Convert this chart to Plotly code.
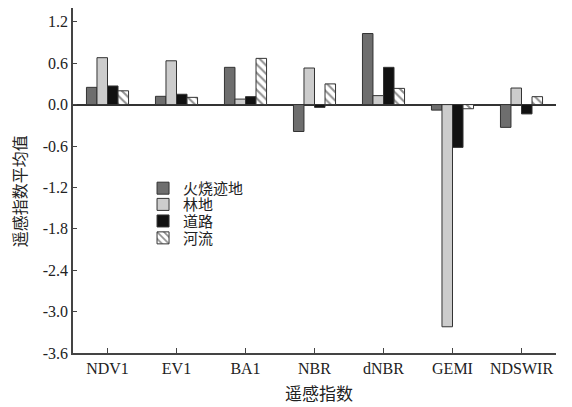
import plotly.graph_objects as go

categories = ["NDV1", "EV1", "BA1", "NBR", "dNBR", "GEMI", "NDSWIR"]
series_names = ["火烧迹地", "林地", "道路", "河流"]
burn = [0.25, 0.12, 0.54, -0.39, 1.03, -0.08, -0.33]
forest = [0.68, 0.635, 0.08, 0.53, 0.13, -3.22, 0.24]
road = [0.27, 0.15, 0.115, -0.04, 0.54, -0.62, -0.135]
river = [0.20, 0.105, 0.67, 0.30, 0.235, -0.06, 0.115]
y_ticks = [1.2, 0.6, 0.0, -0.6, -1.2, -1.8, -2.4, -3.0, -3.6]
y_tick_text = ["1.2", "0.6", "0.0", "-0.6", "-1.2", "-1.8", "-2.4", "-3.0", "-3.6"]

legend_ids = ["legend", "legend2", "legend3", "legend4"]
legend_y = [0.477, 0.43, 0.382, 0.333]

fig = go.Figure()
line = dict(color="#333333", width=1)
fig.add_trace(go.Bar(x=categories, y=burn, name=series_names[0], legend=legend_ids[0],
                     marker=dict(color="#6e6e6e", line=line)))
fig.add_trace(go.Bar(x=categories, y=forest, name=series_names[1], legend=legend_ids[1],
                     marker=dict(color="#cccccc", line=line)))
fig.add_trace(go.Bar(x=categories, y=road, name=series_names[2], legend=legend_ids[2],
                     marker=dict(color="#111111", line=line)))
fig.add_trace(go.Bar(x=categories, y=river, name=series_names[3], legend=legend_ids[3],
                     marker=dict(color="white", line=line,
                                 pattern=dict(shape="\\", fgcolor="#222222", bgcolor="white",
                                              size=6, solidity=0.35))))

cjk = "Noto Sans CJK SC"
legends = {}
for lid, ly in zip(legend_ids, legend_y):
    legends[lid] = dict(x=0.145, y=ly, xanchor="left", yanchor="middle",
                        bgcolor="rgba(0,0,0,0)", font=dict(size=15, family=cjk, color="#222222"),
                        itemwidth=30)

# the page body adds an 8px offset, so the figure is sized 8px smaller
fig.update_layout(
    width=564, height=399,
    margin=dict(l=65, r=16, t=0, b=54),
    paper_bgcolor="white", plot_bgcolor="white",
    barmode="group", bargap=0.39, bargroupgap=0,
    font=dict(family="Liberation Serif", size=16, color="#222222"),
    showlegend=True,
    **legends,
    xaxis=dict(range=[-0.5, 6.5], showline=True, linecolor="#444444", linewidth=1.5,
               ticks="inside", ticklen=5, tickcolor="#444444", showgrid=False,
               automargin=False, tickfont=dict(size=16, family="Liberation Serif")),
    yaxis=dict(range=[-3.6, 1.4], showline=True, linecolor="#444444", linewidth=1.5,
               ticks="inside", ticklen=4, tickcolor="#444444", showgrid=False,
               tickvals=y_ticks, ticktext=y_tick_text, automargin=False,
               zeroline=True, zerolinecolor="#333333", zerolinewidth=1.5,
               tickfont=dict(size=16, family="Liberation Serif")),
    annotations=[
        dict(text="遥感指数", xref="paper", yref="paper", x=0.51, y=-0.115,
             xanchor="center", yanchor="middle", showarrow=False,
             font=dict(size=17, family=cjk, color="#222222")),
        dict(text="遥感指数平均值", xref="paper", yref="paper", x=-0.113, y=0.47,
             xanchor="center", yanchor="middle", showarrow=False, textangle=-90,
             font=dict(size=16, family=cjk, color="#222222")),
    ],
)

fig.write_html("out.html")
